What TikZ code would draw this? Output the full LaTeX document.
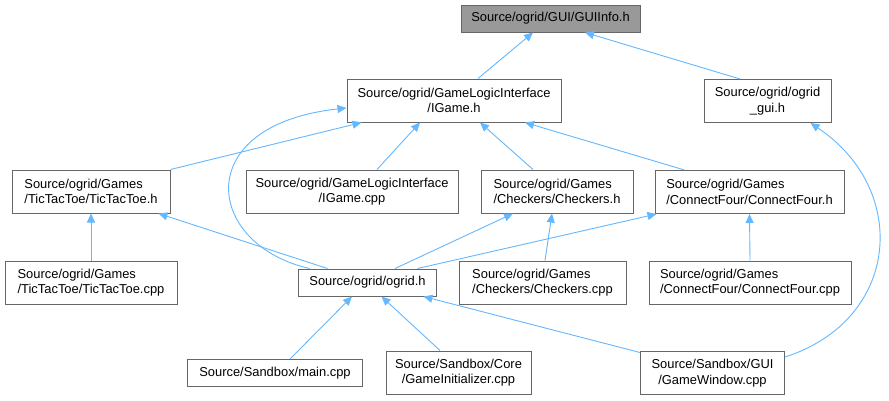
\documentclass[tikz,border=0pt]{standalone}
\usepackage{fontspec}
\setmainfont{Liberation Sans}
\usetikzlibrary{arrows.meta}
\definecolor{edgeblue}{HTML}{63B8FF}
\definecolor{frame}{HTML}{666666}
\definecolor{curfill}{HTML}{999999}

\begin{document}
\begin{tikzpicture}[
  x=1pt, y=-1pt,
  font=\fontsize{12.9}{15.5}\selectfont,
  file/.style={draw=frame, line width=1pt, fill=white, text=black, align=center, inner sep=0pt, minimum height=43pt},
  single/.style={file, minimum height=27pt},
  cur/.style={single, fill=curfill},
  lft/.style={file, align=left},
  arr/.style={-{Triangle[length=9pt,width=8pt]}, line width=0.9pt, draw=edgeblue},
]
\useasboundingbox[fill=white] (0,0) rectangle (889,400);
\node[cur, minimum width=179pt] (guiinfo) at (550.5,18.5) {Source/ogrid/GUI/GUIInfo.h};
\node[file, minimum width=214pt] (igame) at (454,100.5) {Source/ogrid/GameLogicInterface\\/IGame.h};
\node[file, minimum width=127pt] (ogui) at (767.5,101) {Source/ogrid/ogrid\\\_gui.h};
\node[lft, minimum width=158pt] (tth) at (91,191.5) {Source/ogrid/Games\\/TicTacToe/TicTacToe.h};
\node[file, minimum width=212pt] (igcpp) at (352,191.5) {Source/ogrid/GameLogicInterface\\/IGame.cpp};
\node[lft, minimum width=152pt] (chh) at (557,191.5) {Source/ogrid/Games\\/Checkers/Checkers.h};
\node[lft, minimum width=189pt] (cfh) at (749.5,192) {Source/ogrid/Games\\/ConnectFour/ConnectFour.h};
\node[lft, minimum width=172pt] (ttcpp) at (91,282.5) {Source/ogrid/Games\\/TicTacToe/TicTacToe.cpp};
\node[single, minimum width=138pt] (ogrid) at (367.5,282.5) {Source/ogrid/ogrid.h};
\node[lft, minimum width=167pt] (chcpp) at (542.5,282.5) {Source/ogrid/Games\\/Checkers/Checkers.cpp};
\node[lft, minimum width=202pt] (cfcpp) at (750,282.5) {Source/ogrid/Games\\/ConnectFour/ConnectFour.cpp};
\node[single, minimum width=175pt] (main) at (275,373) {Source/Sandbox/main.cpp};
\node[file, minimum width=145pt] (ginit) at (458.5,372.5) {Source/Sandbox/Core\\/GameInitializer.cpp};
\node[file, minimum width=144pt] (gwin) at (712.5,373) {Source/Sandbox/GUI\\/GameWindow.cpp};
% includes of GUIInfo.h
\draw[arr] ([xshift=24pt]igame.north) -- ([xshift=-17.5pt]guiinfo.south);
\draw[arr] ([xshift=-27.5pt]ogui.north) -- ([xshift=34.5pt]guiinfo.south);
% includes of IGame.h
\draw[arr] (tth.north east) -- ([xshift=15pt]igame.south west);
\draw[arr] ([xshift=25pt]igcpp.north) -- ([xshift=-34pt]igame.south);
\draw[arr] ([xshift=-24pt]chh.north) -- ([xshift=26pt]igame.south);
\draw[arr] ([xshift=30pt]cfh.north west) -- ([xshift=71pt]igame.south);
\draw[arr] ([xshift=11.5pt]ogrid.north west) .. controls +(-105,-24) and +(-157,17) .. ([yshift=-7.5pt]igame.west);
% includes of the game headers
\draw[arr] (ttcpp.north) -- (tth.south);
\draw[arr] ([xshift=29.5pt]ogrid.north west) -- ([xshift=-12pt]tth.south east);
\draw[arr] ([xshift=27.5pt]ogrid.north) -- ([xshift=-44pt]chh.south);
\draw[arr] ([xshift=2.5pt]chcpp.north) -- ([xshift=-5pt]chh.south);
\draw[arr] ([xshift=-19.5pt]ogrid.north east) -- ([xshift=2pt]cfh.south west);
\draw[arr] (cfcpp.north) -- (cfh.south);
% includes of ogrid.h and ogrid_gui.h
\draw[arr] ([xshift=15pt]main.north) -- ([xshift=-15.5pt]ogrid.south);
\draw[arr] ([xshift=-18.5pt]ginit.north) -- ([xshift=14pt]ogrid.south);
\draw[arr] ([yshift=-1.5pt]gwin.north west) -- ([xshift=-13.5pt]ogrid.south east);
\draw[arr] ([yshift=16pt]gwin.east) .. controls +(115,-37) and +(100,67) .. ([xshift=-21pt]ogui.south east);
\end{tikzpicture}
\end{document}
